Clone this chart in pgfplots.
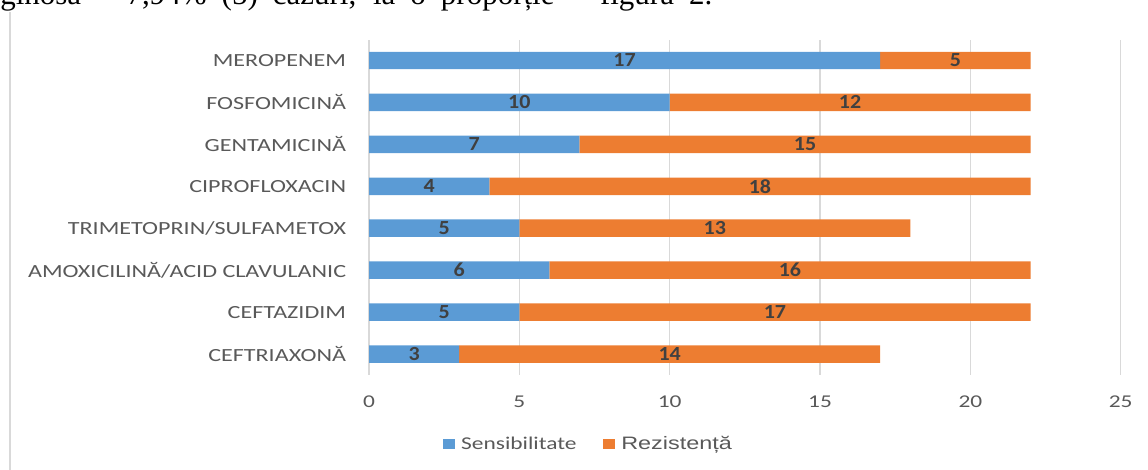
\documentclass[border=0pt]{standalone}
\usepackage{fontspec}
\usepackage{pgfplots}
\usepackage{pgfplotstable}
\pgfplotsset{compat=1.18}
\setmainfont{Liberation Serif}
\newfontfamily\cf[FakeStretch=1.3]{Carlito}
\newfontfamily\cfn[FakeStretch=1.1]{Carlito}
\newfontfamily\af[FakeStretch=1.3]{Liberation Sans}
\definecolor{cblue}{HTML}{5B9BD5}
\definecolor{corange}{HTML}{ED7D31}
\definecolor{tgray}{HTML}{595959}
\definecolor{dgray}{HTML}{404040}
\definecolor{gridc}{HTML}{D9D9D9}

\pgfplotstableread{
y s r
0 3 14
1 5 17
2 6 16
3 5 13
4 4 18
5 7 15
6 10 12
7 17 5
}\datatable

\begin{document}
\begin{tikzpicture}
\path[use as bounding box] (0,0) rectangle (861pt,352.5pt);
\clip (0,0) rectangle (861pt,352.5pt);
\node[anchor=base west, inner sep=0pt, font=\fontsize{23.25pt}{28pt}\selectfont] at (0pt,348.75pt) {\makebox[534pt][s]{ginosa – 7,94\% (5) cazuri, la o proporție – figura 2.}};
\draw[gridc, line width=1.5pt] (7.5pt,0) -- (7.5pt,343.5pt);
\begin{axis}[
  at={(276.75pt,71.25pt)}, anchor=south west,
  scale only axis, width=563.8pt, height=251.6pt,
  xbar stacked, bar width=13.1pt,
  xmin=0, xmax=25, ymin=-0.5, ymax=7.5,
  ytick={0,...,7},
  yticklabels={CEFTRIAXONĂ,CEFTAZIDIM,AMOXICILINĂ/ACID CLAVULANIC,TRIMETOPRIN/SULFAMETOX,CIPROFLOXACIN,GENTAMICINĂ,FOSFOMICINĂ,MEROPENEM},
  xtick={0,5,...,25},
  xmajorgrids, grid style={gridc, line width=0.9pt},
  axis line style={draw=none},
  major tick length=0pt,
  /pgf/number format/assume math mode=true,
  xticklabel style={font=\cf\fontsize{13.5pt}{16pt}\selectfont, text=tgray, anchor=north, inner sep=0pt, yshift=-15.75pt},
  yticklabel style={font=\cf\fontsize{13.9pt}{16pt}\selectfont, text=tgray, anchor=east, inner sep=0pt, xshift=-17pt},
  legend columns=2,
  legend style={at={(0.0984,-0.2057)}, anchor=west, draw=none, fill=none, inner sep=0pt,
    font=\fontsize{13.5pt}{16pt}\selectfont, text=tgray,
    nodes={inner sep=0pt},
    /tikz/every odd column/.append style={column sep=5pt},
    /tikz/every even column/.append style={column sep=20pt}},
  legend image code/.code={\fill[#1] (0pt,-4pt) rectangle (8.5pt,4pt);},
]
\addplot[fill=cblue, draw=none] table[x=s, y=y] {\datatable};
\addlegendentry{\cf Sensibilitate}
\addplot[fill=corange, draw=none] table[x=r, y=y] {\datatable};
\addlegendentry{\af Rezistență}
\end{axis}
\begin{axis}[
  at={(276.75pt,71.25pt)}, anchor=south west,
  scale only axis, width=563.8pt, height=251.6pt,
  xmin=0, xmax=25, ymin=-0.5, ymax=7.5,
  hide axis, clip=false,
]
\addplot[draw=none, no markers, nodes near coords, point meta=explicit symbolic,
  nodes near coords style={anchor=center, inner sep=0pt, font=\cfn\bfseries\fontsize{15pt}{18pt}\selectfont, text=dgray}]
  table[x expr=\thisrow{s}/2, y=y, meta=s] {\datatable};
\addplot[draw=none, no markers, nodes near coords, point meta=explicit symbolic,
  nodes near coords style={anchor=center, inner sep=0pt, font=\cfn\bfseries\fontsize{15pt}{18pt}\selectfont, text=dgray}]
  table[x expr=\thisrow{s}+\thisrow{r}/2, y=y, meta=r] {\datatable};
\end{axis}
\end{tikzpicture}
\end{document}
